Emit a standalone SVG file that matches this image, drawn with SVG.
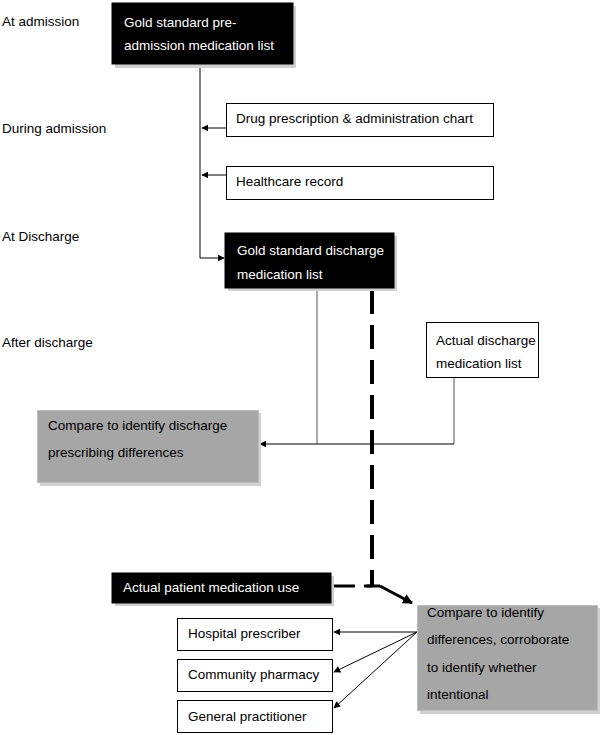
<svg xmlns="http://www.w3.org/2000/svg" width="600" height="735" viewBox="0 0 600 735">
<defs>
<marker id="ah" viewBox="0 0 10 10" refX="9" refY="5" markerWidth="7" markerHeight="7" markerUnits="userSpaceOnUse" orient="auto"><path d="M0,0 L10,5 L0,10 z" fill="#000"/></marker>
<marker id="ahb" viewBox="0 0 10 10" refX="9" refY="5" markerWidth="10" markerHeight="10" markerUnits="userSpaceOnUse" orient="auto"><path d="M0,0 L10,5 L0,10 z" fill="#000"/></marker>
</defs>
<style>
text{font-family:"Liberation Sans",Arial,sans-serif;font-size:13.5px;fill:#000}
.w{fill:#fff}
.blk{fill:#000;stroke:#000}
.wht{fill:#fff;stroke:#000;stroke-width:1}
.gry{fill:#a6a6a6;stroke:#bdbdbd;stroke-width:1}
.sh{fill:#d0d0d0}
.ln{stroke:#000;stroke-width:1;fill:none}
.thin{stroke:#555;stroke-width:1;fill:none}
.dash{stroke:#000;stroke-width:4;fill:none;stroke-dasharray:24 11}
</style>
<g id="labels">
<text x="2" y="26">At admission</text>
<text x="2" y="133">During admission</text>
<text x="2" y="241">At Discharge</text>
<text x="2" y="347">After discharge</text>
</g>
<g id="connectors">
<path class="ln" d="M200,66 V258 H224" marker-end="url(#ah)"/>
<path class="ln" d="M226,128 H202" marker-end="url(#ah)"/>
<path class="ln" d="M226,175 H202" marker-end="url(#ah)"/>
<path class="thin" d="M317,290 V444"/>
<path class="thin" d="M454,378 V444"/>
<path class="ln" d="M454,444 H260" marker-end="url(#ah)"/>
<path class="dash" d="M372,290 V586"/>
<path class="dash" d="M333,586 H372" style="stroke-width:3;stroke-dasharray:22 12"/>
<path class="ln" d="M364,586 H380" style="stroke-width:3"/>
<path class="ln" d="M380,586 L412,603" style="stroke-width:3" marker-end="url(#ahb)"/>
<path class="ln" d="M417,632 H334" marker-end="url(#ah)"/>
<path class="ln" d="M417,632 L334,672" marker-end="url(#ah)"/>
<path class="ln" d="M417,632 L334,708" marker-end="url(#ah)"/>
</g>
<g id="n-preadmission">
<rect class="sh" x="115" y="6" width="181" height="62"/>
<rect class="blk" x="112" y="3" width="181" height="61"/>
<text class="w" x="124" y="27">Gold standard pre-</text>
<text class="w" x="124" y="50">admission medication list</text>
</g>
<g id="n-chart">
<rect class="wht" x="226.5" y="103.5" width="267" height="33"/>
<text x="236" y="123">Drug prescription &amp; administration chart</text>
</g>
<g id="n-record">
<rect class="wht" x="226.5" y="166.5" width="267" height="33"/>
<text x="236" y="186">Healthcare record</text>
</g>
<g id="n-discharge">
<rect class="sh" x="228" y="236" width="169" height="55"/>
<rect class="blk" x="225" y="233" width="169" height="55"/>
<text class="w" x="237" y="255">Gold standard discharge</text>
<text class="w" x="237" y="279">medication list</text>
</g>
<g id="n-actual-discharge">
<rect class="wht" x="426.5" y="322.5" width="112" height="55"/>
<text x="436" y="345">Actual discharge</text>
<text x="436" y="368">medication list</text>
</g>
<g id="n-compare1">
<rect class="sh" x="40" y="413" width="221" height="73"/>
<rect class="gry" x="37.5" y="410.5" width="221" height="72"/>
<text x="48" y="430">Compare to identify discharge</text>
<text x="48" y="457">prescribing differences</text>
</g>
<g id="n-patient-use">
<rect class="sh" x="115" y="576" width="219" height="30"/>
<rect class="blk" x="112" y="573" width="219" height="30"/>
<text class="w" x="123" y="592">Actual patient medication use</text>
</g>
<g id="n-compare2">
<rect class="sh" x="420" y="608" width="180" height="106"/>
<rect class="gry" x="417.5" y="605.5" width="180" height="105"/>
<text x="427" y="617">Compare to identify</text>
<text x="427" y="644">differences, corroborate</text>
<text x="427" y="672">to identify whether</text>
<text x="427" y="699">intentional</text>
</g>
<g id="n-hospital">
<rect class="wht" x="177.5" y="618.5" width="155" height="32"/>
<text x="188" y="638">Hospital prescriber</text>
</g>
<g id="n-community">
<rect class="wht" x="177.5" y="659.5" width="155" height="32"/>
<text x="188" y="679">Community pharmacy</text>
</g>
<g id="n-gp">
<rect class="wht" x="177.5" y="700.5" width="155" height="32"/>
<text x="188" y="721">General practitioner</text>
</g>
</svg>
